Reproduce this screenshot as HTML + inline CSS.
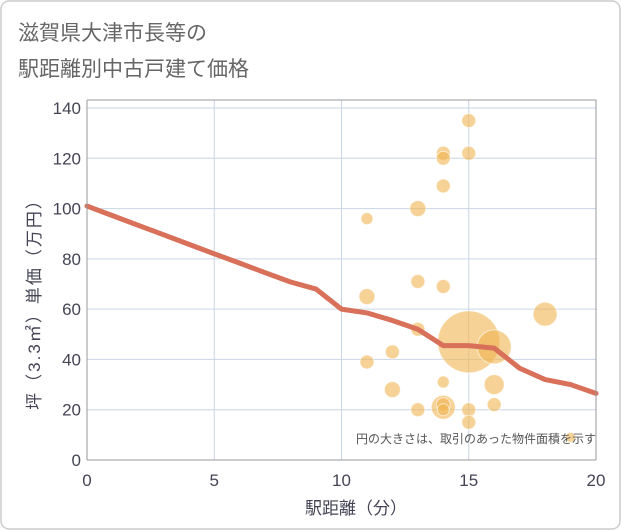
<!DOCTYPE html>
<html><head><meta charset="utf-8"><style>
html,body{margin:0;padding:0;background:#fff}
svg{display:block;font-family:"Liberation Sans","Noto Sans CJK JP",sans-serif}
</style></head><body>
<svg id="chart" width="621" height="530" viewBox="0 0 621 530">
<rect x="1" y="1" width="619" height="528" rx="8" fill="#fff" stroke="#ccc" stroke-width="1.5"/>
<text x="18" y="40" font-size="21" fill="#666">滋賀県大津市長等の</text>
<text x="18" y="76" font-size="21" fill="#666">駅距離別中古戸建て価格</text>
<g id="grid"></g>
<g id="bubbles"></g>
<g id="lineg"></g>
<g id="axes"></g>
<text x="596" y="443" font-size="12" fill="#555" text-anchor="end">円の大きさは、取引のあった物件面積を示す</text>
<text x="356" y="514" font-size="17" fill="#445" text-anchor="middle">駅距離（分）</text>
<text transform="translate(40,300) rotate(-90)" font-size="17" letter-spacing="2" fill="#445" text-anchor="middle">坪（3.3㎡）単価（万円）</text>
</svg>
<script>
const xTicks=[0,5,10,15,20];
const yTicks=[0,20,40,60,80,100,120,140];
const bubbleX=[11,11,11,12,12,13,13,13,13,14,14,14,14,14,14,14,14,15,15,15,15,15,16,16,16,18,19];
const bubbleY=[96,65,39,43,28,100,71,52,20,122,120,109,69,31,21,22,20,135,122,47,20,15,45,30,22,58,9];
const bubbleR=[6,8,7,7,8,8,7,7,7,7,7,7,7,6,12,7,6,7,7,31,7,7,17,10,7,12,5];
const lineX=[0,1,2,3,4,5,6,7,8,9,10,11,12,13,14,15,16,17,18,19,20];
const lineY=[101,97.2,93.4,89.6,85.8,82,78.3,74.5,70.8,68,60,58.5,55.5,52,45.5,45.5,44.5,36.5,32,30,26.5];
const X0=87,X1=596,Y0=460,Y1=108;
const sx=v=>X0+(v-0)/(20-0)*(X1-X0);
const sy=v=>Y0-(v-0)/(140-0)*(Y0-Y1);
const NS="http://www.w3.org/2000/svg";
function mk(tag,attrs,parent){const e=document.createElementNS(NS,tag);for(const k in attrs)e.setAttribute(k,attrs[k]);parent.appendChild(e);return e;}
const grid=document.getElementById('grid'),axes=document.getElementById('axes');
const bg=document.getElementById('bubbles'),lg=document.getElementById('lineg');
yTicks.forEach(t=>{
 const l=mk('line',{x1:X0,x2:X1,y1:sy(t),y2:sy(t),stroke:'#c9d6e6','stroke-width':1},grid);
 
 
 const tx=mk('text',{x:X0-6,y:sy(t)+6,'font-size':17,fill:'#445','text-anchor':'end'},axes);
 tx.textContent=t;
 
 
});
xTicks.forEach(t=>{
 const l=mk('line',{x1:sx(t),x2:sx(t),y1:Y1-8,y2:Y0,stroke:'#c9d6e6','stroke-width':1},grid);
 
 
 const tx=mk('text',{x:sx(t),y:486,'font-size':17,fill:'#445','text-anchor':'middle'},axes);
 tx.textContent=t;
 
 
});
const fr=mk('path',{d:`M${X0} ${Y1-8} H${X1} V${Y0}`,fill:'none',stroke:'#999','stroke-width':1},axes);


const xa=mk('line',{x1:X0,x2:X1,y1:Y0,y2:Y0,stroke:'#999','stroke-width':1},axes);


const ya=mk('line',{x1:X0,x2:X0,y1:Y1-8,y2:Y0,stroke:'#999','stroke-width':1},axes);


bubbleX.forEach((x,i)=>{
 const c=mk('circle',{cx:sx(x),cy:sy(bubbleY[i]),r:bubbleR[i],fill:'rgba(240,180,80,0.6)',stroke:'rgba(255,255,255,0.6)','stroke-width':1},bg);
 
 
});
const pl=mk('polyline',{points:lineX.map((x,i)=>sx(x)+','+sy(lineY[i])).join(' '),fill:'none',stroke:'#d8705a','stroke-width':5,'stroke-linejoin':'round','stroke-linecap':'round'},lg);


</script>
</body></html>
